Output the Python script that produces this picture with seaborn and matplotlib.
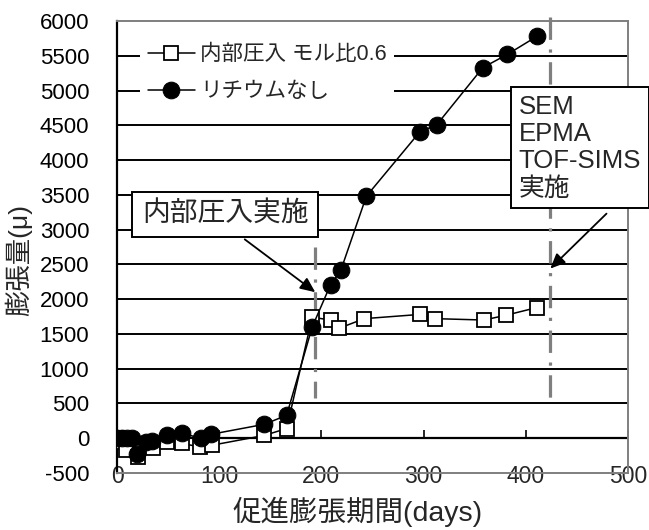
import matplotlib
matplotlib.use('Agg')
import matplotlib.pyplot as plt
import seaborn as sns
import pandas as pd

# data
days_inj = [0, 5, 9, 21, 35, 49, 64, 81, 93, 144, 166, 191, 209, 217, 242, 296, 311, 359, 381, 411]
exp_inj = [0, -50, -170, -270, -145, -55, -75, -125, -100, 40, 140, 1740, 1700, 1580, 1720, 1780, 1720, 1700, 1770, 1880]

days_noli = [0, 5, 10, 15, 20, 28, 34, 49, 64, 82, 92, 144, 166, 191, 209, 219, 244, 296, 313, 358, 382, 411]
exp_noli = [0, 0, 0, 0, -220, -50, -40, 43, 70, 0, 57, 200, 330, 1600, 2210, 2415, 3480, 4400, 4510, 5330, 5520, 5780]

label_inj = '内部圧入 モル比0.6'
label_noli = 'リチウムなし'

yticks = list(range(-500, 6001, 500))
ytick_labels = [str(v) for v in yticks]
xticks = [0, 100, 200, 300, 400, 500]

# event markers (day, top, bottom)
event_inj = (194, 2750, 575)
event_sem = (424, 6060, 575)

df_inj = pd.DataFrame({'days': days_inj, 'exp': exp_inj})
df_noli = pd.DataFrame({'days': days_noli, 'exp': exp_noli})

sns.set_style('white')
plt.rcParams['font.family'] = ['Liberation Sans', 'Noto Sans CJK JP', 'DejaVu Sans']

fig = plt.figure(figsize=(6.49, 5.30), dpi=100)
ax = fig.add_axes([0.1803, 0.1075, 0.7873, 0.8529])

# gridlines
for v in yticks[2:-1]:
    ax.axhline(v, color='black', lw=1.4, zorder=1)
ax.axhline(0, color='black', lw=1.6, zorder=1)

# event lines, drawn top-down so the dash pattern starts at the top
gray = '#7f7f7f'
for d, hi, lo in [event_inj, event_sem]:
    ax.plot([d, d], [hi, lo], color=gray, lw=2.3, dashes=(7, 3, 1, 3), zorder=2, clip_on=False)

sns.lineplot(data=df_inj, x='days', y='exp', ax=ax, color='black', lw=1.1,
             marker='s', markersize=10, markerfacecolor='white', markeredgecolor='black',
             markeredgewidth=1.3, sort=False, estimator=None, label=label_inj, zorder=3)
sns.lineplot(data=df_noli, x='days', y='exp', ax=ax, color='black', lw=1.1,
             marker='o', markersize=12, markerfacecolor='black', markeredgecolor='black',
             sort=False, estimator=None, label=label_noli, zorder=4)

ax.set_xlim(0, 500)
ax.set_ylim(-500, 6000)
ax.set_yticks(yticks)
ax.set_yticklabels(ytick_labels)
ax.set_xticks(xticks)
ax.tick_params(axis='y', direction='in', length=7, width=1.4, pad=20, labelsize=16, colors='black')
ax.tick_params(axis='x', length=0, pad=-6, labelsize=16.5)

for s in ['top', 'right', 'bottom']:
    ax.spines[s].set_color(gray)
    ax.spines[s].set_linewidth(1.4)
ax.spines['left'].set_color('black')
ax.spines['left'].set_linewidth(1.6)

# x-axis line at zero with inward ticks
sec = ax.secondary_xaxis(500 / 6500)
sec.set_xticks(xticks)
sec.tick_params(direction='in', length=6, width=1.4, labelbottom=False, labeltop=False)
sec.spines['bottom'].set_visible(False)
sec.spines['top'].set_visible(False)

ax.set_xlabel('促進膨張期間(days)', fontsize=20.5)
ax.set_ylabel('膨張量(μ)', fontsize=19)
ax.xaxis.set_label_coords(0.47, -0.052)
ax.yaxis.set_label_coords(-0.166, 0.471)

leg = ax.legend(loc='upper left', bbox_to_anchor=(0.045, 0.965), fontsize=15.5, frameon=True,
                handlelength=2.2, handletextpad=0.25, labelspacing=0.75, borderpad=0.35,
                borderaxespad=0.0)
leg.get_frame().set_edgecolor('none')
leg.get_frame().set_facecolor('white')
leg.get_frame().set_alpha(1)
leg.set_zorder(5)

box = dict(boxstyle='square,pad=0.35', fc='white', ec='black', lw=1.4)
ax.text(106, 3220, '内部圧入実施', fontsize=20, ha='center', va='center', bbox=box, zorder=6)
ax.text(393, 4180, 'SEM\nEPMA\nTOF-SIMS\n実施', fontsize=18.5, ha='left', va='center',
        linespacing=1.17, bbox=dict(boxstyle='square,pad=0.3', fc='white', ec='black', lw=1.4),
        zorder=6, clip_on=False)

arrow = dict(arrowstyle='-|>,head_length=0.9,head_width=0.4', color='black', lw=1.3, shrinkA=0, shrinkB=0)
ax.annotate('', xy=(194, 2100), xytext=(125, 2860), arrowprops=arrow, zorder=6)
ax.annotate('', xy=(424, 2440), xytext=(479, 3230), arrowprops=arrow, zorder=6)

fig.savefig('out.png', dpi=100)
